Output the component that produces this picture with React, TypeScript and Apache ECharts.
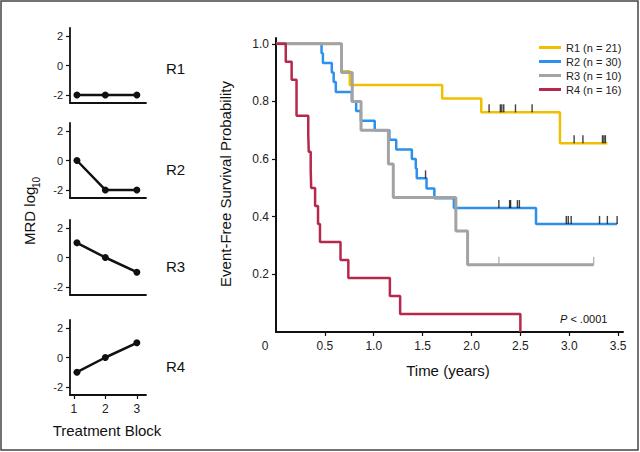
import React, { useEffect, useRef } from "react";
import * as echarts from "echarts";

// ---- MRD panels ----
const blocks = [1.1, 2, 3];
const blockTicks = [1, 2, 3];
const mrdTicks = [-2, 0, 2];
const mrdR1 = [-2, -2, -2];
const mrdR2 = [0, -2, -2];
const mrdR3 = [1, 0, -1];
const mrdR4 = [-1, 0, 1];
const panelNames = ["R1", "R2", "R3", "R4"];

// ---- Kaplan-Meier curves (time in years, survival after event) ----
const r1Times = [0, 0.67, 0.755, 1.7, 2.1, 2.905, 3.39];
const r1Surv = [1, 0.905, 0.857, 0.81, 0.762, 0.655, 0.655];
const r2Times = [0, 0.466, 0.48, 0.571, 0.59, 0.612, 0.776, 0.82, 0.868, 1.01, 1.16, 1.23, 1.39, 1.43, 1.44, 1.54, 1.62, 1.82, 2.66, 3.49];
const r2Surv = [1, 0.967, 0.933, 0.9, 0.867, 0.833, 0.8, 0.767, 0.733, 0.7, 0.667, 0.633, 0.6, 0.567, 0.533, 0.498, 0.464, 0.43, 0.375, 0.375];
const r3Times = [0, 0.67, 0.78, 0.87, 1.15, 1.2, 1.84, 1.96, 3.25];
const r3Surv = [1, 0.9, 0.8, 0.7, 0.583, 0.467, 0.35, 0.233, 0.233];
const r4Times = [0, 0.1, 0.16, 0.21, 0.33, 0.335, 0.355, 0.36, 0.4, 0.43, 0.45, 0.66, 0.74, 1.165, 1.27, 2.5];
const r4Surv = [1, 0.9375, 0.875, 0.75, 0.6875, 0.625, 0.5625, 0.5, 0.4375, 0.375, 0.3125, 0.25, 0.1875, 0.125, 0.0625, 0];

const r1Censor = [2.18, 2.295, 2.31, 2.33, 2.45, 2.62, 3.05, 3.14, 3.34, 3.355, 3.37];
const r2Censor = [1.53, 2.28, 2.39, 2.4, 2.47, 2.49, 2.97, 2.99, 3.02, 3.31, 3.39, 3.49];
const r3Censor = [2.28, 3.25];

const seriesNames = ["R1 (n = 21)", "R2 (n = 30)", "R3 (n = 10)", "R4 (n = 16)"];
const colors = ["#f0c000", "#2d90ea", "#a3a3a3", "#b5294d"];
const xTickVals = [0.5, 1, 1.5, 2, 2.5, 3, 3.5];
const xLabelVals = [0, 0.5, 1, 1.5, 2, 2.5, 3, 3.5];
const yTickVals = [0.2, 0.4, 0.6, 0.8, 1.0];

const FONT = "'Liberation Sans', Arial, sans-serif";

function survAt(times: number[], surv: number[], t: number) {
  let s = surv[0];
  for (let i = 0; i < times.length; i++) if (times[i] <= t) s = surv[i];
  return s;
}

export default function App() {
  const ref = useRef<HTMLDivElement>(null);
  useEffect(() => {
    const chart = echarts.init(ref.current!, null, { renderer: "svg" });
    const panelTops = [28, 123, 220, 320];
    const panelData = [mrdR1, mrdR2, mrdR3, mrdR4];

    const grid: any[] = [{ left: 276, top: 38, width: 347, height: 294 }];
    const xAxis: any[] = [
      {
        gridIndex: 0, type: "value", min: 0, max: 3.55,
        axisLine: { onZero: false, lineStyle: { color: "#111", width: 2 } },
        axisTick: { show: true, customValues: xTickVals, length: 4, lineStyle: { color: "#111", width: 1.2 } },
        axisLabel: {
          customValues: xLabelVals, margin: 8, fontSize: 12, color: "#222", fontFamily: FONT,
          formatter: (v: number) => (v === 0 ? "{z|0}" : v.toFixed(1)),
          rich: { z: { fontSize: 12, color: "#222", fontFamily: FONT, padding: [0, 22, 0, 0] } },
        },
        splitLine: { show: false },
      },
    ];
    const yAxis: any[] = [
      {
        gridIndex: 0, type: "value", min: 0, max: 1.02,
        axisLine: { show: true, onZero: false, lineStyle: { color: "#111", width: 2 } },
        axisTick: { show: true, customValues: yTickVals, length: 4, lineStyle: { color: "#111", width: 1.2 } },
        axisLabel: { customValues: yTickVals, margin: 7, fontSize: 12, color: "#222", fontFamily: FONT, formatter: (v: number) => v.toFixed(1) },
        splitLine: { show: false },
      },
    ];
    const series: any[] = [];
    const kmTimes = [r1Times, r2Times, r3Times, r4Times];
    const kmSurv = [r1Surv, r2Surv, r3Surv, r4Surv];
    const widths = [2.5, 2.5, 3, 2.5];
    [0, 1, 2, 3].forEach((i) => {
      series.push({
        name: seriesNames[i], type: "line", xAxisIndex: 0, yAxisIndex: 0, step: "end",
        showSymbol: false, symbol: "none", z: 2 + i,
        lineStyle: { color: colors[i], width: widths[i] }, itemStyle: { color: colors[i] },
        data: kmTimes[i].map((t, k) => [t, kmSurv[i][k]]),
      });
    });
    const censors = [
      { t: r1Censor, i: 0, c: "#111" },
      { t: r2Censor, i: 1, c: "#111" },
      { t: r3Censor, i: 2, c: "#a3a3a3" },
    ];
    censors.forEach((cs) => {
      series.push({
        name: "censor" + cs.i, type: "scatter", xAxisIndex: 0, yAxisIndex: 0, z: 10,
        symbol: "rect", symbolSize: [1.4, 8], symbolOffset: [0, -4],
        itemStyle: { color: cs.c },
        data: cs.t.map((t) => [t, survAt(kmTimes[cs.i], kmSurv[cs.i], t)]),
      });
    });

    panelTops.forEach((top, p) => {
      const gi = p + 1;
      grid.push({ left: 70, top, width: 76, height: 75 });
      const last = p === 3;
      xAxis.push({
        gridIndex: gi, type: "value", min: 0.88, max: 3.29,
        axisLine: { onZero: false, lineStyle: { color: "#111", width: 1.8 } },
        axisTick: { show: last, customValues: blockTicks, length: 4, lineStyle: { color: "#111", width: 1.2 } },
        axisLabel: { show: last, customValues: blockTicks, margin: 8, fontSize: 12, color: "#222", fontFamily: FONT },
        splitLine: { show: false },
      });
      yAxis.push({
        gridIndex: gi, type: "value", min: -2.55, max: 2.55,
        axisLine: { show: true, onZero: false, lineStyle: { color: "#111", width: 1.8 } },
        axisTick: { show: true, customValues: mrdTicks, length: 4, lineStyle: { color: "#111", width: 1.2 } },
        axisLabel: { customValues: mrdTicks, margin: 7, fontSize: 11, color: "#222", fontFamily: FONT },
        splitLine: { show: false },
      });
      series.push({
        name: panelNames[p], type: "line", xAxisIndex: gi, yAxisIndex: gi,
        symbol: "circle", symbolSize: 7, showSymbol: true,
        lineStyle: { color: "#111", width: 2.5 }, itemStyle: { color: "#111" },
        data: blocks.map((b, k) => [b, panelData[p][k]]),
      });
    });

    const labelYs = [68, 169, 266, 366];
    const graphic: any[] = [
      { type: "rect", shape: { x: 1, y: 1, width: 637, height: 449 }, style: { fill: "none", stroke: "#444", lineWidth: 1.5 }, z: 100 },
      ...panelNames.map((n, p) => ({
        type: "text", x: 166, y: labelYs[p],
        style: { text: n, font: `15px ${FONT}`, fill: "#111", textAlign: "left", textVerticalAlign: "middle" },
      })),
      { type: "text", x: 107, y: 430, style: { text: "Treatment Block", font: `15px ${FONT}`, fill: "#111", textAlign: "center", textVerticalAlign: "middle" } },
      { type: "text", x: 29, y: 245, rotation: Math.PI / 2, style: { text: "MRD log", font: `15px ${FONT}`, fill: "#111", textAlign: "left", textVerticalAlign: "middle" } },
      { type: "text", x: 36, y: 188, rotation: Math.PI / 2, style: { text: "10", font: `10px ${FONT}`, fill: "#111", textAlign: "left", textVerticalAlign: "middle" } },
      { type: "text", x: 225, y: 184, rotation: Math.PI / 2, style: { text: "Event-Free Survival Probability", font: `15px ${FONT}`, fill: "#111", textAlign: "center", textVerticalAlign: "middle" } },
      { type: "text", x: 448, y: 370, style: { text: "Time (years)", font: `15px ${FONT}`, fill: "#111", textAlign: "center", textVerticalAlign: "middle" } },
      {
        type: "text", x: 560, y: 319,
        style: {
          text: "{i|P}{n| < .0001}", textAlign: "left", textVerticalAlign: "middle",
          rich: { i: { fontStyle: "italic", fontSize: 11, fontFamily: FONT, fill: "#111" }, n: { fontSize: 11, fontFamily: FONT, fill: "#111" } },
        },
      },
    ];

    chart.setOption({
      animation: false,
      backgroundColor: "#fff",
      textStyle: { fontFamily: FONT },
      grid,
      xAxis,
      yAxis,
      series,
      legend: {
        data: seriesNames.map((n) => ({ name: n, icon: "rect" })),
        orient: "vertical", left: 534, top: 37, itemWidth: 22, itemHeight: 3, itemGap: 3,
        textStyle: { fontSize: 11, color: "#222", fontFamily: FONT, lineHeight: 11 },
      },
      graphic,
    });
    return () => chart.dispose();
  }, []);
  return <div ref={ref} style={{ position: "fixed", left: 0, top: 0, width: 640, height: 452 }} />;
}
